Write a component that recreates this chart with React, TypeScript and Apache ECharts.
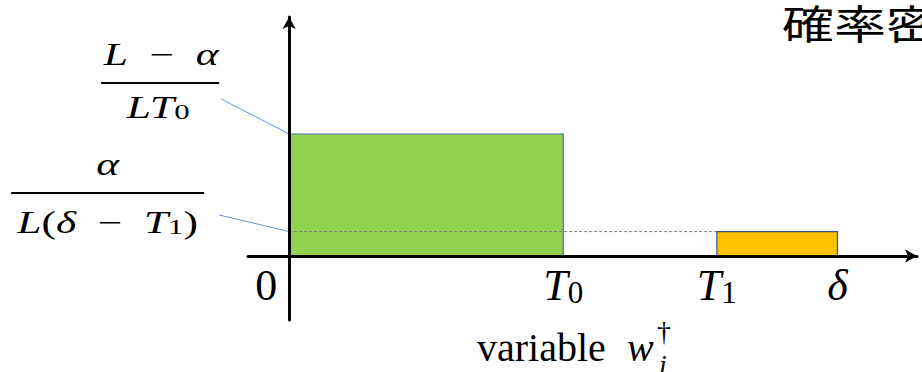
import React, { useEffect, useRef } from 'react';
import * as echarts from 'echarts';

// Break points of the piecewise-uniform density on the w axis
const T0 = 2.0;
const T1 = 3.12;
const DELTA = 4.0;

// The two uniform pieces: start, end and density height
const PIECE_START = [0, T1];
const PIECE_END = [T0, DELTA];
const PIECE_DENSITY = [1.0, 0.2];

// Ticks on the w axis and their labels (rich-text markup)
const X_TICKS = [0, T0, T1, DELTA];
const X_TICK_LABELS = ['{zero|0}', '{it|T}{sub|0}', '{it|T}{sub|1}', '{it|δ}'];

// Density levels written as fractions (numerator / denominator)
const FRACTION_NUM = ['{i|L}\u2002−\u2002{i|α}', '{i|α}'];
const FRACTION_DEN = ['{i|LT}{s|0}', '{i|L}({i|δ}\u2002−\u2002{i|T}{s|1})'];

const TITLE = '確率密度';
const X_NAME = 'variable';

// Axis extents
const X_MIN = -0.3;
const X_MAX = 4.58;
const Y_MIN = -0.525;
const Y_MAX = 1.959;

const GRID = { left: 248, right: 5, top: 17, bottom: 52 };
const CHART_H = 372;

const SERIF = '"Liberation Serif", "Times New Roman", serif';
const FILLS = ['#92d050', '#ffc000'];
const STROKES = ['#4a6fb0', '#2f528f'];

// Placement of each fraction label relative to the point (0, density)
const LABEL_LAYOUT = [
  { lead: [-68, -35], num: [-128, -80], bar: [-188, -70, -51], den: [-131, -27] },
  { lead: [-70, -16.6], num: [-181.5, -67], bar: [-278, -85, -38.6], den: [-181.5, -9.5] },
];
const FRACTION_STRETCH = 1.4;
const FRACTION_SIZE = 31;

const fractionRich = {
  i: { fontStyle: 'italic', fontSize: FRACTION_SIZE, fontFamily: SERIF, lineHeight: 31 },
  s: { fontSize: 22, fontFamily: SERIF, lineHeight: 17, verticalAlign: 'bottom' },
};

const fractionText = (text: string, x: number, y: number) => ({
  type: 'text',
  x,
  y,
  scaleX: FRACTION_STRETCH,
  style: {
    legacy: false,
    text,
    fill: '#000',
    fontSize: FRACTION_SIZE,
    fontFamily: SERIF,
    lineHeight: 31,
    align: 'center',
    verticalAlign: 'middle',
    rich: fractionRich,
  },
});

const renderItem = (params: any, api: any) => {
  const idx = params.dataIndex;
  const start = api.value(0);
  const end = api.value(1);
  const h = api.value(2);
  const tl = api.coord([start, h]);
  const br = api.coord([end, 0]);
  const anchor = api.coord([0, h]);
  const lay = LABEL_LAYOUT[idx];
  const children: any[] = [
    {
      type: 'rect',
      shape: { x: tl[0], y: tl[1], width: br[0] - tl[0], height: br[1] - tl[1] },
      style: { fill: FILLS[idx], stroke: STROKES[idx], lineWidth: 1.2 },
    },
  ];
  if (start > 0) {
    // dotted guide from the y axis to the top of this piece
    children.push({
      type: 'line',
      shape: { x1: anchor[0], y1: anchor[1], x2: tl[0], y2: tl[1] },
      style: { stroke: '#7f7f7f', lineWidth: 1, lineDash: [3, 2] },
      z2: 5,
    });
  }
  children.push({
    type: 'line',
    shape: { x1: anchor[0] + lay.lead[0], y1: anchor[1] + lay.lead[1], x2: anchor[0], y2: anchor[1] },
    style: { stroke: '#6b93d6', lineWidth: 1 },
  });
  children.push(fractionText(FRACTION_NUM[idx], anchor[0] + lay.num[0], anchor[1] + lay.num[1]));
  children.push({
    type: 'line',
    shape: {
      x1: anchor[0] + lay.bar[0],
      y1: anchor[1] + lay.bar[2],
      x2: anchor[0] + lay.bar[1],
      y2: anchor[1] + lay.bar[2],
    },
    style: { stroke: '#000', lineWidth: 2 },
  });
  children.push(fractionText(FRACTION_DEN[idx], anchor[0] + lay.den[0], anchor[1] + lay.den[1]));
  return { type: 'group', children };
};

export default function App() {
  const ref = useRef<HTMLDivElement>(null);

  useEffect(() => {
    if (!ref.current) return;
    const chart = echarts.init(ref.current, undefined, { renderer: 'svg' });
    const data = PIECE_START.map((s, i) => [s, PIECE_END[i], PIECE_DENSITY[i]]);

    // lift the x axis (line and labels) from the grid bottom up to y = 0
    const gridH = CHART_H - GRID.top - GRID.bottom;
    const xAxisOffset = -gridH * (0 - Y_MIN) / (Y_MAX - Y_MIN);

    chart.setOption({
      animation: false,
      textStyle: { fontFamily: SERIF },
      grid: { ...GRID, containLabel: false },
      xAxis: {
        type: 'value',
        min: X_MIN,
        max: X_MAX,
        z: 10,
        offset: xAxisOffset,
        splitLine: { show: false },
        axisTick: { show: false },
        axisLine: {
          show: true,
          onZero: false,
          symbol: ['none', 'arrow'],
          symbolSize: [10, 12],
          lineStyle: { color: '#000', width: 3 },
        },
        axisLabel: {
          show: true,
          customValues: X_TICKS,
          margin: 8,
          color: '#000',
          fontSize: 44,
          fontFamily: SERIF,
          lineHeight: 44,
          formatter: (v: number) => {
            let best = 0;
            X_TICKS.forEach((t, i) => {
              if (Math.abs(t - v) < Math.abs(X_TICKS[best] - v)) best = i;
            });
            return X_TICK_LABELS[best];
          },
          rich: {
            zero: { fontSize: 44, fontFamily: SERIF, lineHeight: 44, padding: [0, 46, 0, 0] },
            it: { fontSize: 44, fontFamily: SERIF, fontStyle: 'italic', lineHeight: 44 },
            sub: { fontSize: 31, fontFamily: SERIF, lineHeight: 23, verticalAlign: 'bottom' },
          },
        },
      },
      yAxis: {
        type: 'value',
        min: Y_MIN,
        max: Y_MAX,
        z: 10,
        splitLine: { show: false },
        axisTick: { show: false },
        axisLabel: { show: false },
        axisLine: {
          show: true,
          onZero: true,
          symbol: ['none', 'arrow'],
          symbolSize: [10, 12],
          lineStyle: { color: '#000', width: 3 },
        },
      },
      series: [
        {
          type: 'custom',
          clip: false,
          renderItem,
          data,
        },
      ],
      graphic: [
        {
          type: 'text',
          x: 782,
          y: 1,
          scaleX: 1.3,
          style: {
            legacy: false,
            text: TITLE,
            fill: '#000',
            fontSize: 40,
            fontFamily: '"Noto Sans CJK JP", sans-serif',
            verticalAlign: 'top',
          },
        },
        {
          type: 'group',
          children: [
            {
              type: 'text',
              x: 477,
              y: 347,
              style: { legacy: false, text: X_NAME, fill: '#000', fontSize: 40, fontFamily: SERIF, verticalAlign: 'middle' },
            },
            {
              type: 'text',
              x: 627,
              y: 347,
              style: { legacy: false, text: 'w', fill: '#000', fontSize: 40, fontStyle: 'italic', fontFamily: SERIF, verticalAlign: 'middle' },
            },
            {
              type: 'text',
              x: 657,
              y: 331,
              style: { legacy: false, text: '†', fill: '#000', fontSize: 28, fontFamily: SERIF, verticalAlign: 'middle' },
            },
            {
              type: 'text',
              x: 659,
              y: 364,
              style: { legacy: false, text: 'i', fill: '#000', fontSize: 28, fontStyle: 'italic', fontFamily: SERIF, verticalAlign: 'middle' },
            },
          ],
        },
      ],
    });

    return () => chart.dispose();
  }, []);

  return (
    <div
      ref={ref}
      style={{ position: 'fixed', left: 0, top: 0, width: 922, height: 372, background: '#fff' }}
    />
  );
}
